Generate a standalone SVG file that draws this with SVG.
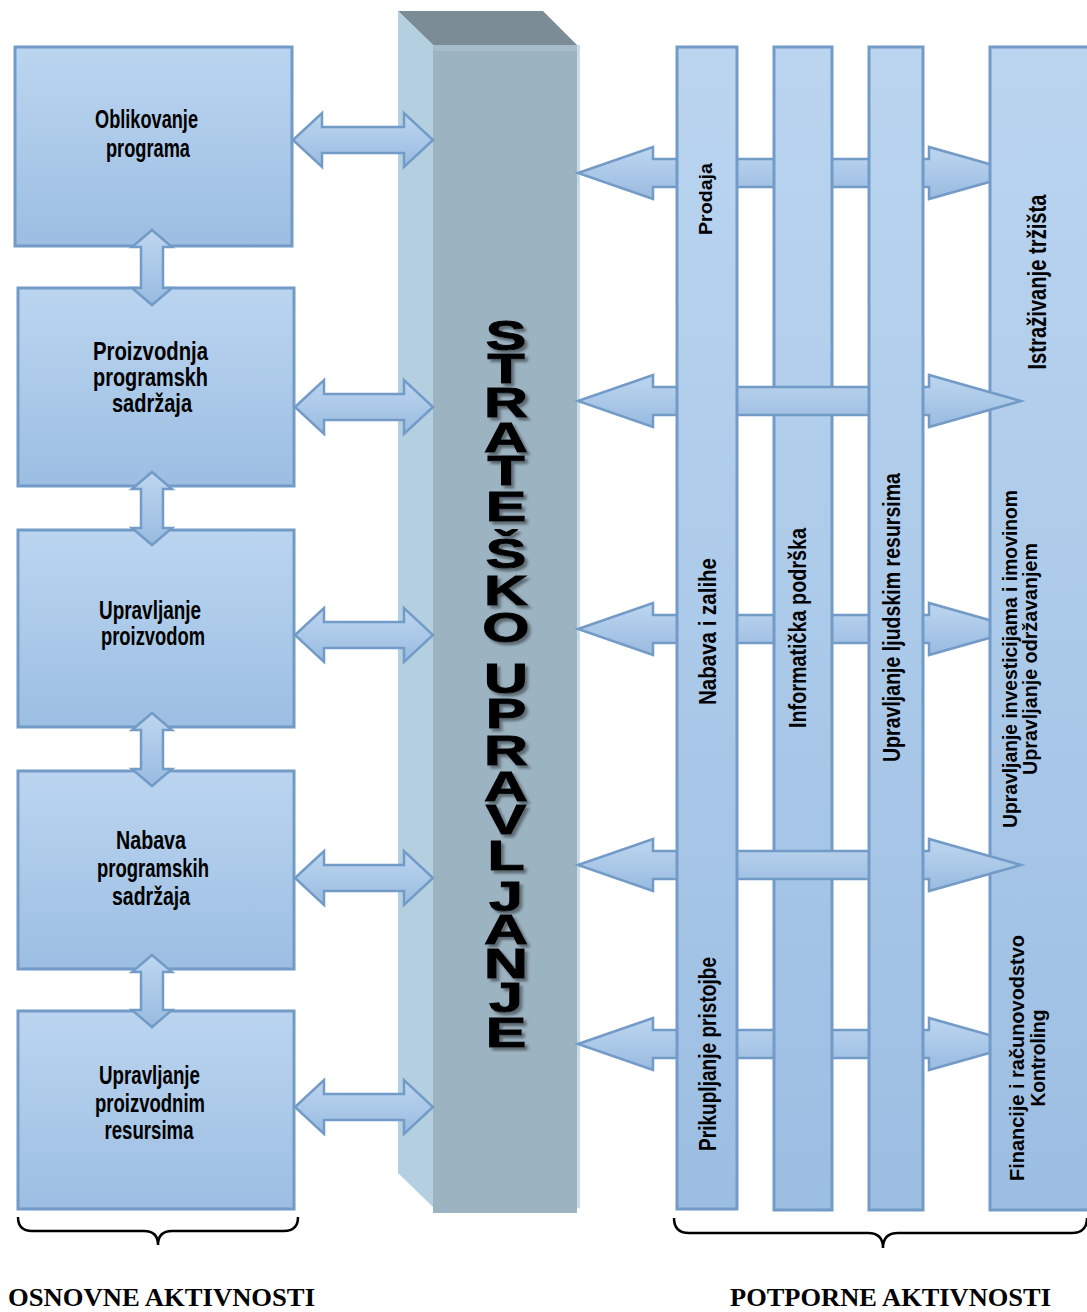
<svg xmlns="http://www.w3.org/2000/svg" width="1087" height="1312" viewBox="0 0 1087 1312">
<defs>
<linearGradient id="gBox" x1="0" y1="0" x2="0" y2="1">
<stop offset="0" stop-color="#bbd5f0"/>
<stop offset="1" stop-color="#9cbee2"/>
</linearGradient>
<linearGradient id="gArr" x1="0" y1="0" x2="0" y2="1">
<stop offset="0" stop-color="#bdd6f0"/>
<stop offset="1" stop-color="#99bbe0"/>
</linearGradient>
<filter id="shadow" x="-30%" y="-5%" width="160%" height="110%">
<feGaussianBlur in="SourceAlpha" stdDeviation="1.1" result="b"/>
<feOffset in="b" dx="2.2" dy="3" result="o"/>
<feFlood flood-color="#4f5a60" flood-opacity="0.8"/>
<feComposite in2="o" operator="in" result="s"/>
<feMerge><feMergeNode in="s"/><feMergeNode in="SourceGraphic"/></feMerge>
</filter>
<style>
.box{fill:url(#gBox);stroke:#729bc7;stroke-width:3}
.col{fill:url(#gBox);stroke:#729bc7;stroke-width:3}
.arr{fill:url(#gArr);stroke:#729bc7;stroke-width:2.5;stroke-linejoin:miter}
.t{font-family:"Liberation Sans",Arial,sans-serif;font-weight:bold;font-size:25px;fill:#000;text-anchor:middle}
.v{font-family:"Liberation Sans",Arial,sans-serif;font-weight:bold;font-size:24px;fill:#000;text-anchor:middle}
.v2{font-family:"Liberation Sans",Arial,sans-serif;font-weight:bold;font-size:21px;fill:#000;text-anchor:middle}
.big{font-family:"Liberation Sans",Arial,sans-serif;font-weight:bold;font-size:42px;fill:#000;stroke:#000;stroke-width:1;text-anchor:middle}
.lbl{font-family:"Liberation Serif","Times New Roman",serif;font-weight:bold;font-size:26px;fill:#000}
.brace{fill:none;stroke:#000;stroke-width:2.5}
</style>
</defs>
<rect width="1087" height="1312" fill="#fff"/>

<!-- central 3D column -->
<g id="strategic">
<polygon points="398,11 543,11 577,45 433,45" fill="#7b8c97"/>
<polygon points="398,11 433,45 433,1207 398,1173" fill="#b4d0e0"/>
<rect x="433" y="45" width="144" height="1168" fill="#9cb3c2"/>
<rect x="433" y="45" width="144" height="6" fill="#a6bccb"/>
<rect x="577" y="45" width="3" height="1163" fill="#c6dbe7"/>
<g transform="translate(506,0) scale(1.45,1)">
<text class="big" filter="url(#shadow)"><tspan x="0" y="350">S</tspan><tspan x="0" y="383">T</tspan><tspan x="0" y="417">R</tspan><tspan x="0" y="452">A</tspan><tspan x="0" y="485">T</tspan><tspan x="0" y="521">E</tspan><tspan x="0" y="568">Š</tspan><tspan x="0" y="605">K</tspan><tspan x="0" y="642">O</tspan><tspan x="0" y="693">U</tspan><tspan x="0" y="728">P</tspan><tspan x="0" y="765">R</tspan><tspan x="0" y="801">A</tspan><tspan x="0" y="834">V</tspan><tspan x="0" y="870">L</tspan><tspan x="0" y="911">J</tspan><tspan x="0" y="944">A</tspan><tspan x="0" y="978">N</tspan><tspan x="0" y="1012">J</tspan><tspan x="0" y="1047">E</tspan></text>
</g>
</g>

<!-- left boxes -->
<g id="box1"><rect class="box" x="15" y="47" width="277" height="199"/>
<text class="t" x="146.5" y="128" textLength="103" lengthAdjust="spacingAndGlyphs">Oblikovanje</text>
<text class="t" x="148" y="157" textLength="84" lengthAdjust="spacingAndGlyphs">programa</text></g>
<g id="box2"><rect class="box" x="18" y="288" width="276" height="198"/>
<text class="t" x="150.5" y="360" textLength="115" lengthAdjust="spacingAndGlyphs">Proizvodnja</text>
<text class="t" x="150.5" y="386" textLength="115" lengthAdjust="spacingAndGlyphs">programskh</text>
<text class="t" x="152" y="412" textLength="80" lengthAdjust="spacingAndGlyphs">sadržaja</text></g>
<g id="box3"><rect class="box" x="18" y="530" width="276" height="197"/>
<text class="t" x="150" y="619" textLength="102" lengthAdjust="spacingAndGlyphs">Upravljanje</text>
<text class="t" x="153" y="645" textLength="104" lengthAdjust="spacingAndGlyphs">proizvodom</text></g>
<g id="box4"><rect class="box" x="18" y="771" width="276" height="198"/>
<text class="t" x="151" y="849" textLength="70" lengthAdjust="spacingAndGlyphs">Nabava</text>
<text class="t" x="153" y="877" textLength="112" lengthAdjust="spacingAndGlyphs">programskih</text>
<text class="t" x="151" y="905" textLength="78" lengthAdjust="spacingAndGlyphs">sadržaja</text></g>
<g id="box5"><rect class="box" x="18" y="1011" width="276" height="198"/>
<text class="t" x="149.5" y="1084" textLength="101" lengthAdjust="spacingAndGlyphs">Upravljanje</text>
<text class="t" x="150" y="1112" textLength="110" lengthAdjust="spacingAndGlyphs">proizvodnim</text>
<text class="t" x="149" y="1139" textLength="89" lengthAdjust="spacingAndGlyphs">resursima</text></g>

<!-- left connectors -->
<g id="connectors-left">
<path class="arr" d="M293,140 L322,113 L322,127 L404,127 L404,113 L433,140 L404,167 L404,153 L322,153 L322,167 Z"/>
<path class="arr" d="M295,407 L324,380 L324,394 L404,394 L404,380 L433,407 L404,434 L404,420 L324,420 L324,434 Z"/>
<path class="arr" d="M295,635 L324,608 L324,622 L404,622 L404,608 L433,635 L404,662 L404,648 L324,648 L324,662 Z"/>
<path class="arr" d="M295,878 L324,851 L324,865 L404,865 L404,851 L433,878 L404,905 L404,891 L324,891 L324,905 Z"/>
<path class="arr" d="M295,1107 L324,1080 L324,1094 L404,1094 L404,1080 L433,1107 L404,1134 L404,1120 L324,1120 L324,1134 Z"/>
<path class="arr" d="M152,230 L172,247 L163,247 L163,288 L172,288 L152,305 L132,288 L141,288 L141,247 L132,247 Z"/>
<path class="arr" d="M152,472 L172,489 L163,489 L163,528 L172,528 L152,545 L132,528 L141,528 L141,489 L132,489 Z"/>
<path class="arr" d="M152,713 L172,730 L163,730 L163,769 L172,769 L152,786 L132,769 L141,769 L141,730 L132,730 Z"/>
<path class="arr" d="M152,955 L172,972 L163,972 L163,1010 L172,1010 L152,1027 L132,1010 L141,1010 L141,972 L132,972 Z"/>
</g>

<!-- right connectors (under all columns) -->
<g id="connectors-right-back">
<path class="arr" d="M578,173 L653,147 L653,159 L929,159 L929,147 L1021,173 L929,199 L929,187 L653,187 L653,199 Z"/>
<path class="arr" d="M578,629 L653,603 L653,615 L929,615 L929,603 L1021,629 L929,655 L929,643 L653,643 L653,655 Z"/>
<path class="arr" d="M578,1044 L653,1018 L653,1030 L929,1030 L929,1018 L1021,1044 L929,1070 L929,1058 L653,1058 L653,1070 Z"/>
</g>

<g id="col2"><rect class="col" x="774" y="47" width="58" height="1163"/></g>
<g id="col4"><rect class="col" x="990" y="47" width="100" height="1163"/></g>

<g id="connectors-right-front">
<path class="arr" d="M578,401 L653,375 L653,387 L929,387 L929,375 L1021,401 L929,427 L929,415 L653,415 L653,427 Z"/>
<path class="arr" d="M578,865 L653,839 L653,851 L929,851 L929,839 L1021,865 L929,891 L929,879 L653,879 L653,891 Z"/>
</g>

<g id="col1"><rect class="col" x="677" y="47" width="60" height="1162"/></g>
<g id="col3"><rect class="col" x="869" y="47" width="54" height="1163"/></g>

<!-- column labels -->
<g id="col1-labels">
<text class="v" style="font-size:19px" transform="translate(712,199) rotate(-90)" textLength="72" lengthAdjust="spacingAndGlyphs">Prodaja</text>
<text class="v" transform="translate(716,631.5) rotate(-90)" textLength="147" lengthAdjust="spacingAndGlyphs">Nabava i zalihe</text>
<text class="v" transform="translate(716,1054) rotate(-90)" textLength="194" lengthAdjust="spacingAndGlyphs">Prikupljanje pristojbe</text>
</g>
<g id="col2-labels">
<text class="v" transform="translate(806,628) rotate(-90)" textLength="200" lengthAdjust="spacingAndGlyphs">Informatička podrška</text>
</g>
<g id="col3-labels">
<text class="v" transform="translate(900,617.5) rotate(-90)" textLength="289" lengthAdjust="spacingAndGlyphs">Upravljanje ljudskim resursima</text>
</g>
<g id="col4-labels">
<text class="v" style="font-size:25px" transform="translate(1046,282) rotate(-90)" textLength="175" lengthAdjust="spacingAndGlyphs">Istraživanje tržišta</text>
<text class="v2" transform="translate(1017,659) rotate(-90)" textLength="338" lengthAdjust="spacingAndGlyphs">Upravljanje investicijama i imovinom</text>
<text class="v2" transform="translate(1037,659) rotate(-90)" textLength="232" lengthAdjust="spacingAndGlyphs">Upravljanje održavanjem</text>
<text class="v2" transform="translate(1024,1058) rotate(-90)" textLength="246" lengthAdjust="spacingAndGlyphs">Financije i računovodstvo</text>
<text class="v2" transform="translate(1045,1058) rotate(-90)" textLength="97" lengthAdjust="spacingAndGlyphs">Kontroling</text>
</g>

<!-- braces and labels -->
<g id="brace-left">
<path class="brace" d="M18,1217 Q18,1231 32,1231 L144,1231 Q158,1231 158,1245 Q158,1231 172,1231 L284,1231 Q298,1231 298,1217"/>
<text class="lbl" x="8" y="1306" textLength="307" lengthAdjust="spacingAndGlyphs">OSNOVNE AKTIVNOSTI</text>
</g>
<g id="brace-right">
<path class="brace" d="M674,1218 Q674,1233 689,1233 L868,1233 Q883,1233 883,1248 Q883,1233 898,1233 L1072,1233 Q1087,1233 1087,1218"/>
<text class="lbl" x="730" y="1306" textLength="321" lengthAdjust="spacingAndGlyphs">POTPORNE AKTIVNOSTI</text>
</g>
</svg>
